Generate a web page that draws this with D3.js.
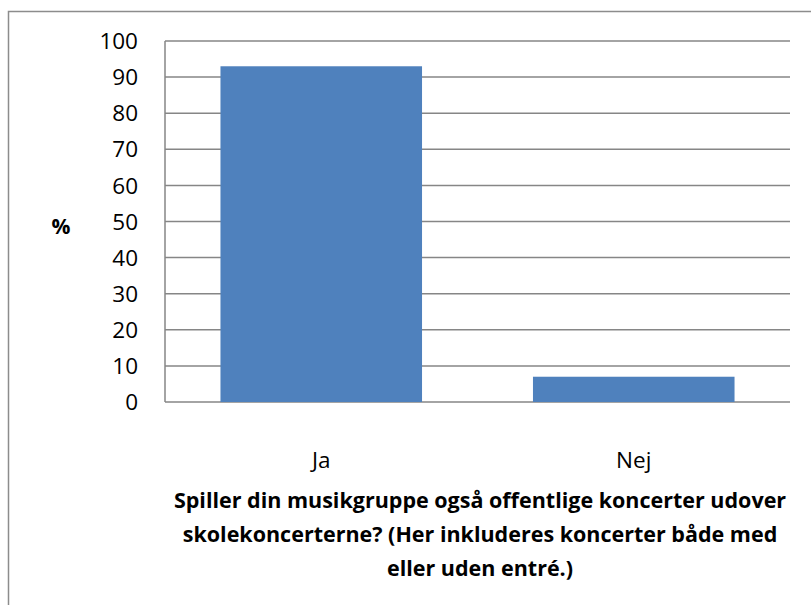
<!DOCTYPE html>
<html>
<head>
<meta charset="utf-8">
<script src="https://cdn.jsdelivr.net/npm/d3@7"></script>
<style>
  body { margin: 0; background: #fff; }
  svg text { font-family: "Open Sans", Lato, sans-serif; fill: #000; }
</style>
</head>
<body>
<svg id="chart" width="811" height="605"></svg>
<script>
// chart data
const categories = ["Ja", "Nej"];
const values = [93, 7];
const yTicks = [0, 10, 20, 30, 40, 50, 60, 70, 80, 90, 100];
const titleLines = [
  "Spiller din musikgruppe også offentlige koncerter udover",
  "skolekoncerterne? (Her inkluderes koncerter både med",
  "eller uden entré.)"
];

const svg = d3.select("#chart");
const plot = { left: 165, right: 790, top: 41, bottom: 402 };

// outer chart border (runs off the right/bottom edge)
svg.append("rect")
  .attr("x", 8.5).attr("y", 11.5)
  .attr("width", 820).attr("height", 620)
  .attr("fill", "none")
  .attr("stroke", "#8c8c8c")
  .attr("stroke-width", 1.5);

const x = d3.scaleBand()
  .domain(categories)
  .range([plot.left, plot.right])
  .paddingInner(0.355)
  .paddingOuter(0.1775);

const y = d3.scaleLinear()
  .domain([0, 100])
  .range([plot.bottom, plot.top]);

// gridlines
svg.append("g")
  .selectAll("line")
  .data(yTicks)
  .join("line")
  .attr("x1", plot.left).attr("x2", plot.right)
  .attr("y1", d => y(d)).attr("y2", d => y(d))
  .attr("stroke", "#868686")
  .attr("stroke-width", 1.5);

// bars
svg.append("g")
  .selectAll("rect")
  .data(values)
  .join("rect")
  .attr("x", (d, i) => x(categories[i]))
  .attr("y", d => y(d))
  .attr("width", x.bandwidth())
  .attr("height", d => y(0) - y(d))
  .attr("fill", "#4f81bd");

// y axis line
svg.append("line")
  .attr("x1", plot.left).attr("x2", plot.left)
  .attr("y1", plot.top).attr("y2", plot.bottom)
  .attr("stroke", "#868686")
  .attr("stroke-width", 1.5);

// y tick labels
svg.append("g")
  .selectAll("text")
  .data(yTicks)
  .join("text")
  .attr("x", 138)
  .attr("y", d => y(d))
  .attr("dy", "0.36em")
  .attr("text-anchor", "end")
  .style("font-size", "22.5px")
  .text(d => d);

// category labels
svg.append("g")
  .selectAll("text")
  .data(categories)
  .join("text")
  .attr("x", d => x(d) + x.bandwidth() / 2)
  .attr("y", 468)
  .attr("text-anchor", "middle")
  .style("font-size", "22.5px")
  .text(d => d);

// y axis title
svg.append("text")
  .attr("x", 61).attr("y", 226)
  .attr("dy", "0.36em")
  .attr("text-anchor", "middle")
  .style("font-size", "21px")
  .style("font-weight", "bold")
  .text("%");

// x axis title
svg.append("g")
  .selectAll("text")
  .data(titleLines)
  .join("text")
  .attr("x", 480)
  .attr("y", (d, i) => 508 + i * 34)
  .attr("text-anchor", "middle")
  .style("font-size", "21.5px")
  .style("font-weight", "bold")
  .text(d => d);
</script>
</body>
</html>
